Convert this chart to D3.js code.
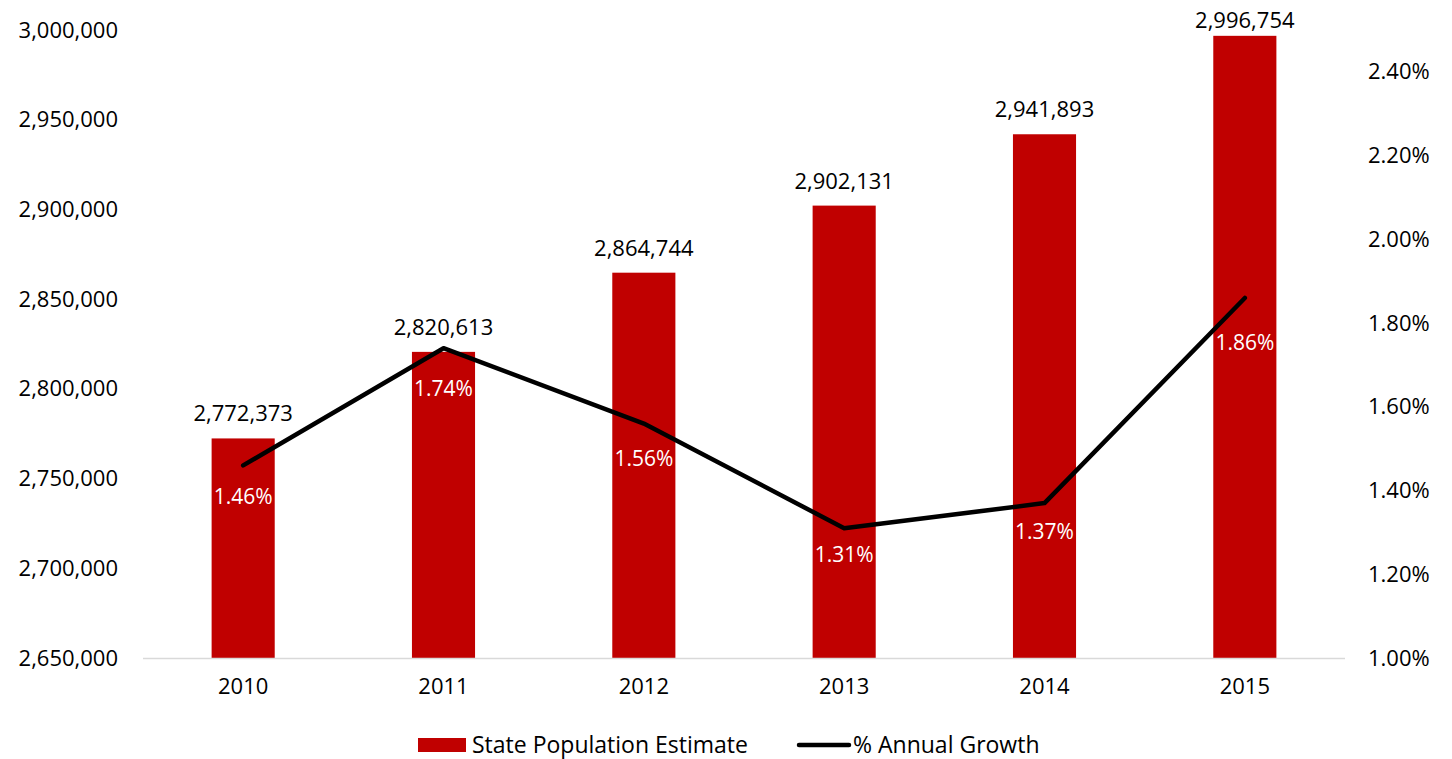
<!DOCTYPE html>
<html>
<head>
<meta charset="utf-8">
<script src="https://cdn.jsdelivr.net/npm/d3@7"></script>
<style>
  body { margin: 0; background: #fff; }
  svg text { font-family: "Open Sans", "Noto Sans", sans-serif; }
</style>
</head>
<body>
<div id="chart"></div>
<script>
// dane z wykresu
const years = ["2010", "2011", "2012", "2013", "2014", "2015"];
const population = [2772373, 2820613, 2864744, 2902131, 2941893, 2996754];
const growth = [1.46, 1.74, 1.56, 1.31, 1.37, 1.86];
const leftTicks = [2650000, 2700000, 2750000, 2800000, 2850000, 2900000, 2950000, 3000000];
const rightTicks = [1.0, 1.2, 1.4, 1.6, 1.8, 2.0, 2.2, 2.4];

const width = 1452, height = 759;
const plot = { left: 143, right: 1345, top: 30, bottom: 658 };
const barColor = "#c00000";
const fontSize = 22;

const svg = d3.select("#chart").append("svg")
  .attr("width", width)
  .attr("height", height);

const x = d3.scaleBand()
  .domain(years)
  .range([plot.left, plot.right])
  .paddingInner(0.685)
  .paddingOuter(0.3425);

const y = d3.scaleLinear()
  .domain([2650000, 3000000])
  .range([plot.bottom, plot.top]);

const yR = d3.scaleLinear()
  .domain([1.0, 2.5])
  .range([plot.bottom, plot.top]);

// etykiety procentowe w Excelu były przesunięte ręcznie - osobna skala
const yLab = d3.scaleLinear()
  .domain([1.0, 2.5])
  .range([674, 96]);

const fmt = d3.format(",");

// słupki
svg.selectAll("rect.bar")
  .data(population)
  .enter()
  .append("rect")
  .attr("class", "bar")
  .attr("x", (d, i) => x(years[i]))
  .attr("y", d => y(d))
  .attr("width", x.bandwidth())
  .attr("height", d => plot.bottom - y(d))
  .attr("fill", barColor);

// linia bazowa
svg.append("line")
  .attr("x1", plot.left).attr("x2", plot.right)
  .attr("y1", plot.bottom + 0.5).attr("y2", plot.bottom + 0.5)
  .attr("stroke", "#d9d9d9")
  .attr("stroke-width", 1.5);

// oś lewa
const axL = svg.append("g")
  .attr("transform", "translate(118,0)")
  .call(d3.axisLeft(y).tickValues(leftTicks).tickFormat(fmt).tickSize(0).tickPadding(0));
axL.select(".domain").remove();
axL.selectAll("text").attr("font-size", fontSize).attr("fill", "#000")
  .attr("font-family", "Open Sans");

// oś prawa
const axR = svg.append("g")
  .attr("transform", "translate(1368,0)")
  .call(d3.axisRight(yR).tickValues(rightTicks).tickFormat(d => d.toFixed(2) + "%").tickSize(0).tickPadding(0));
axR.select(".domain").remove();
axR.selectAll("text").attr("font-size", fontSize).attr("fill", "#000")
  .attr("font-family", "Open Sans");

// oś X
const axX = svg.append("g")
  .attr("transform", "translate(0," + plot.bottom + ")")
  .call(d3.axisBottom(x).tickSize(0).tickPadding(20));
axX.select(".domain").remove();
axX.selectAll("text").attr("font-size", fontSize).attr("fill", "#000")
  .attr("font-family", "Open Sans");

// etykiety słupków (najwyższa dosunięta do słupka, żeby się zmieściła)
svg.selectAll("text.barlab")
  .data(population)
  .enter()
  .append("text")
  .attr("class", "barlab")
  .attr("x", (d, i) => x(years[i]) + x.bandwidth() / 2)
  .attr("y", d => Math.max(y(d) - 17, 28))
  .attr("text-anchor", "middle")
  .attr("font-size", fontSize)
  .text(d => fmt(d));

// linia wzrostu
const line = d3.line()
  .x((d, i) => x(years[i]) + x.bandwidth() / 2)
  .y(d => yR(d));

svg.append("path")
  .datum(growth)
  .attr("d", line)
  .attr("fill", "none")
  .attr("stroke", "#000")
  .attr("stroke-width", 4.5)
  .attr("stroke-linecap", "round")
  .attr("stroke-linejoin", "round");

// etykiety procentów
svg.selectAll("text.pct")
  .data(growth)
  .enter()
  .append("text")
  .attr("class", "pct")
  .attr("x", (d, i) => x(years[i]) + x.bandwidth() / 2)
  .attr("y", d => yLab(d))
  .attr("dy", "0.35em")
  .attr("text-anchor", "middle")
  .attr("font-size", fontSize - 1)
  .attr("fill", "#fff")
  .text(d => d.toFixed(2) + "%");

// legenda
const leg = svg.append("g").attr("transform", "translate(0,745)");
leg.append("rect")
  .attr("x", 418).attr("y", -7)
  .attr("width", 48).attr("height", 14)
  .attr("fill", barColor);
leg.append("text")
  .attr("x", 472).attr("dy", "0.35em")
  .attr("font-size", 23)
  .text("State Population Estimate");
leg.append("line")
  .attr("x1", 799).attr("x2", 849)
  .attr("stroke", "#000")
  .attr("stroke-width", 4.5)
  .attr("stroke-linecap", "round");
leg.append("text")
  .attr("x", 853).attr("dy", "0.35em")
  .attr("font-size", 23)
  .text("% Annual Growth");
</script>
</body>
</html>
